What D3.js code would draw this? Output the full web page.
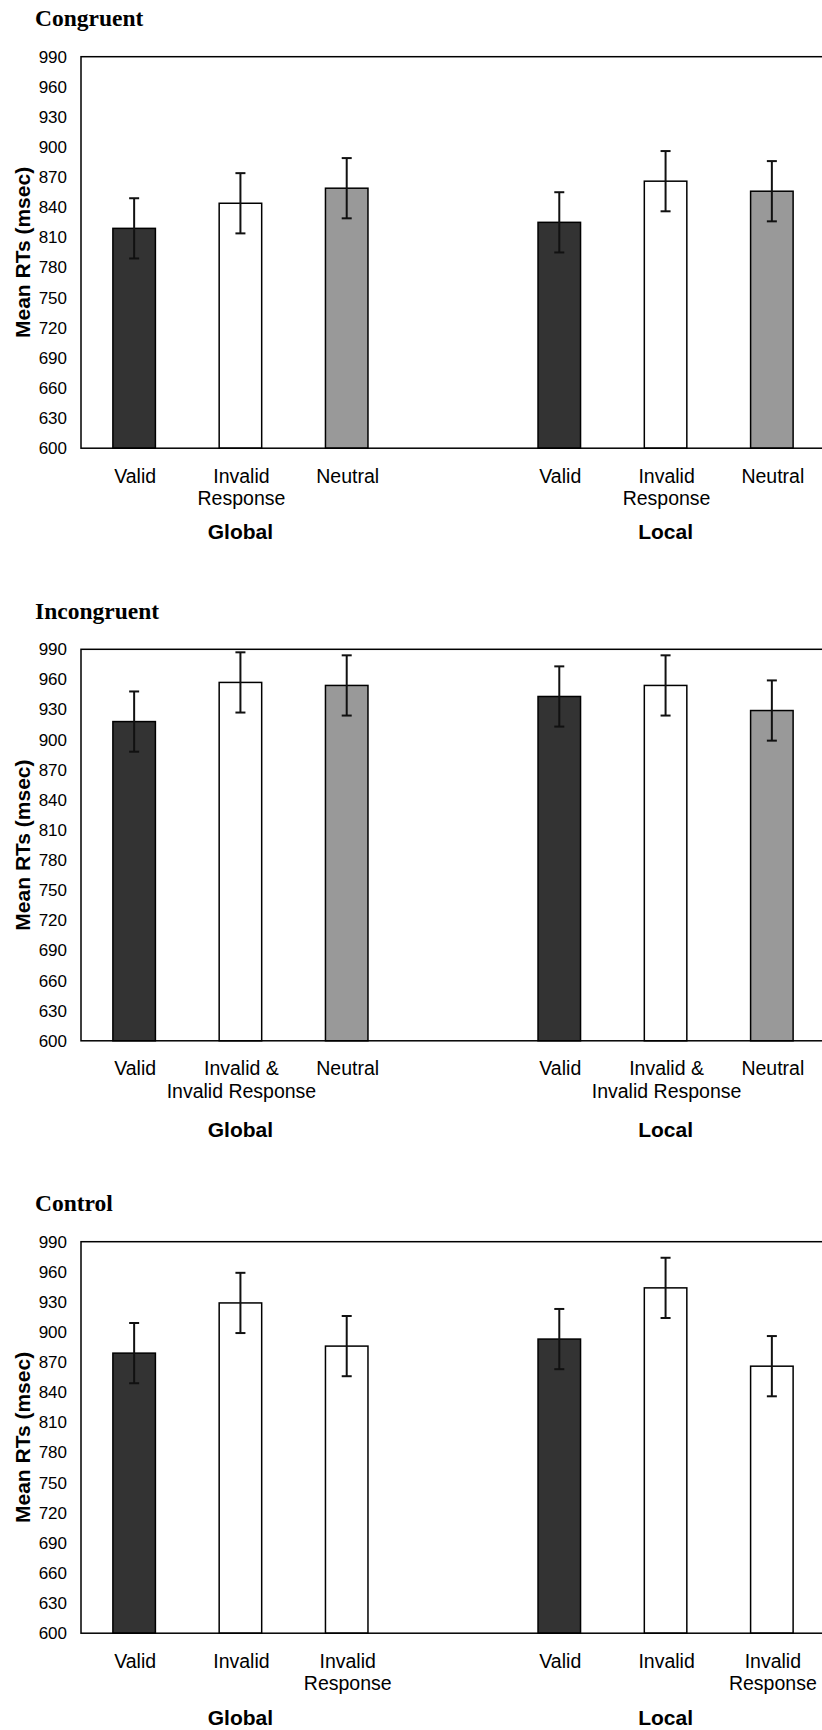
<!DOCTYPE html>
<html>
<head>
<meta charset="utf-8">
<script src="https://cdn.jsdelivr.net/npm/d3@7"></script>
<style>
    body { margin: 0; background: #fff; }
    svg { display: block; }
</style>
</head>
<body>
<div id="chartContainer"></div>
<script>
// values (mean RT in msec, error bar half-width)
const panelTitles = ['Congruent', 'Incongruent', 'Control'];
const groupNames = ['Global', 'Local'];
const yTicks = [600, 630, 660, 690, 720, 750, 780, 810, 840, 870, 900, 930, 960, 990];

const congruentCues = ['Valid', 'Invalid\nResponse', 'Neutral'];
const incongruentCues = ['Valid', 'Invalid &\nInvalid Response', 'Neutral'];
const controlCues = ['Valid', 'Invalid', 'Invalid\nResponse'];

const congruentTypes = ['valid', 'invalid', 'neutral'];
const incongruentTypes = ['valid', 'invalid', 'neutral'];
const controlTypes = ['valid', 'invalid', 'invalid'];

// Global x3 then Local x3
const congruentMeans = [819, 844, 859, 825, 866, 856];
const incongruentMeans = [918, 957, 954, 943, 954, 929];
const controlMeans = [879, 929, 886, 893, 944, 866];

const congruentErrors = [30, 30, 30, 30, 30, 30];
const incongruentErrors = [30, 30, 30, 30, 30, 30];
const controlErrors = [30, 30, 30, 30, 30, 30];

document.addEventListener('DOMContentLoaded', function() {
    const width = 822;
    const height = 1730;
    const margin = { left: 81, right: -3 };
    const plotHeight = 391.5;
    const panelTops = [56.7, 649.3, 1241.7];
    const groupLabelOffsets = [90.5, 96, 91.5];

    const panels = [
        { title: panelTitles[0], cues: congruentCues, types: congruentTypes, means: congruentMeans, errors: congruentErrors },
        { title: panelTitles[1], cues: incongruentCues, types: incongruentTypes, means: incongruentMeans, errors: incongruentErrors },
        { title: panelTitles[2], cues: controlCues, types: controlTypes, means: controlMeans, errors: controlErrors }
    ];

    const sans = "'Liberation Sans', Arial, sans-serif";
    const serif = "'Liberation Serif', 'Times New Roman', serif";

    const svg = d3.select('#chartContainer')
        .append('svg')
        .attr('width', width)
        .attr('height', height);

    // 7 slots: three Global bars, an empty gap, three Local bars
    const slots = [0, 1, 2, 4, 5, 6];
    const x = d3.scaleBand()
        .domain(d3.range(7))
        .range([margin.left, width - margin.right])
        .paddingInner(0.6)
        .paddingOuter(0.3);

    const fill = d3.scaleOrdinal()
        .domain(['valid', 'invalid', 'neutral'])
        .range(['#333333', '#ffffff', '#999999']);

    panels.forEach((panel, p) => {
        const top = panelTops[p];
        const bottom = top + plotHeight;

        const y = d3.scaleLinear()
            .domain([600, 990])
            .range([bottom, top]);

        const g = svg.append('g');

        // panel title
        g.append('text')
            .attr('x', 35)
            .attr('y', top - 30.5)
            .style('font-family', serif)
            .style('font-weight', 'bold')
            .style('font-size', '23.5px')
            .text(panel.title);

        // y axis
        const yAxis = g.append('g')
            .attr('transform', `translate(${margin.left},0)`)
            .call(d3.axisLeft(y).tickValues(yTicks).tickSize(0).tickPadding(14));
        yAxis.select('.domain').remove();
        yAxis.selectAll('text')
            .style('font-family', sans)
            .style('font-size', '17px')
            .attr('fill', '#000');

        g.append('text')
            .attr('transform', `translate(22,${(top + bottom) / 2}) rotate(-90)`)
            .attr('text-anchor', 'middle')
            .attr('dominant-baseline', 'central')
            .style('font-family', sans)
            .style('font-weight', 'bold')
            .style('font-size', '21px')
            .text('Mean RTs (msec)');

        // bars
        panel.means.forEach((m, i) => {
            const type = panel.types[i % 3];
            g.append('rect')
                .attr('x', x(slots[i]))
                .attr('y', y(m))
                .attr('width', x.bandwidth())
                .attr('height', y(600) - y(m))
                .attr('fill', fill(type))
                .attr('stroke', '#000')
                .attr('stroke-width', 1.5);
        });

        // error bars
        panel.means.forEach((m, i) => {
            const cx = x(slots[i]) + x.bandwidth() / 2;
            const e = panel.errors[i];
            const eb = g.append('g')
                .attr('stroke', '#111')
                .attr('stroke-width', 2);
            eb.append('line')
                .attr('x1', cx).attr('x2', cx)
                .attr('y1', y(m + e)).attr('y2', y(m - e));
            [m + e, m - e].forEach(v => {
                eb.append('line')
                    .attr('x1', cx - 5).attr('x2', cx + 5)
                    .attr('y1', y(v)).attr('y2', y(v));
            });
        });

        // plot frame (right side runs past the page edge)
        g.append('rect')
            .attr('x', margin.left)
            .attr('y', top)
            .attr('width', x.range()[1] - margin.left)
            .attr('height', plotHeight)
            .attr('fill', 'none')
            .attr('stroke', '#000')
            .attr('stroke-width', 1.5);

        // category labels
        panel.means.forEach((m, i) => {
            const cx = x(slots[i]) + x.bandwidth() / 2;
            const lines = panel.cues[i % 3].split('\n');
            const t = g.append('text')
                .attr('text-anchor', 'middle')
                .style('font-family', sans)
                .style('font-size', '19.5px');
            lines.forEach((line, k) => {
                t.append('tspan')
                    .attr('x', cx + 1)
                    .attr('y', bottom + 34.5 + k * 22.3)
                    .text(line);
            });
        });

        // group labels under the middle bar of each group
        groupNames.forEach((name, k) => {
            g.append('text')
                .attr('x', x(slots[k * 3 + 1]) + x.bandwidth() / 2)
                .attr('y', bottom + groupLabelOffsets[p])
                .attr('text-anchor', 'middle')
                .style('font-family', sans)
                .style('font-weight', 'bold')
                .style('font-size', '21px')
                .text(name);
        });
    });
});
</script>
</body>
</html>
